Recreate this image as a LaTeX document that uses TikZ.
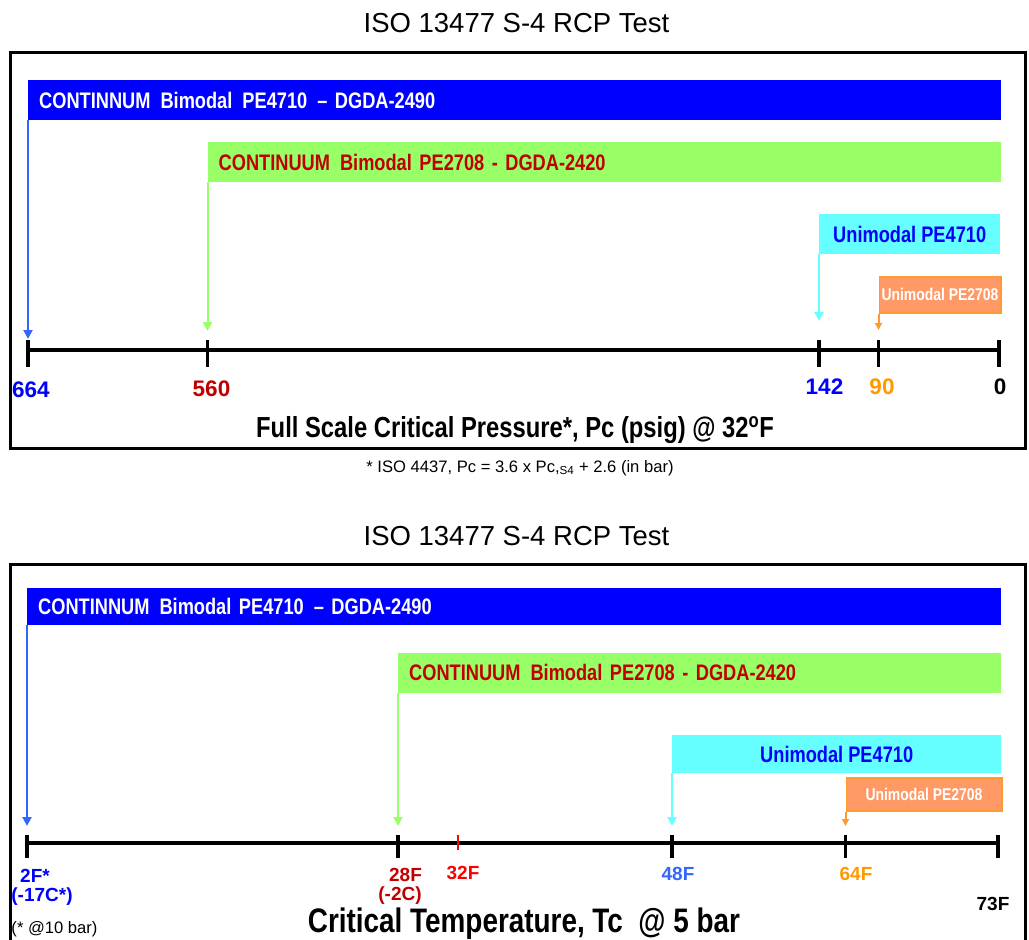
\documentclass[tikz,border=0pt]{standalone}
\usepackage{fontspec}
\setmainfont{Liberation Sans}
\newfontfamily\narrowfont[FakeStretch=0.82]{Liberation Sans}
\newfontfamily\barfont[FakeStretch=0.81]{Liberation Sans}
\newcommand{\gap}{\hspace{10pt}}
\usetikzlibrary{arrows.meta}
\pgfdeclarelayer{edgelayer}
\pgfdeclarelayer{nodelayer}
\pgfsetlayers{edgelayer,nodelayer,main}
\definecolor{barblue}{HTML}{0000FF}
\definecolor{arrowblue}{HTML}{3366FF}
\definecolor{bargreen}{HTML}{99FF66}
\definecolor{darkred}{HTML}{C00000}
\definecolor{barcyan}{HTML}{66FFFF}
\definecolor{barorange}{HTML}{FF9966}
\definecolor{lineorange}{HTML}{FF9933}
\definecolor{textorange}{HTML}{FF9900}
\tikzstyle{none}=[inner sep=0pt]
\tikzstyle{bar}=[anchor=north west, inner ysep=0pt, font=\barfont\bfseries\fontsize{22.5}{26}\selectfont]
\tikzstyle{leftbar}=[bar, inner xsep=11pt, align=left]
\tikzstyle{midbar}=[bar, inner xsep=0pt]
\tikzstyle{smallbar}=[midbar, font=\narrowfont\bfseries\fontsize{17}{20}\selectfont, text=white, fill=barorange, draw=lineorange, line width=1.5pt]
\tikzstyle{heading}=[none, anchor=base, font=\fontsize{27.5}{32}\selectfont]
\tikzstyle{axistitle}=[none, anchor=base, font=\narrowfont\bfseries\fontsize{29}{34}\selectfont]
\tikzstyle{ticklabel}=[none, anchor=base, font=\bfseries\fontsize{22.5}{26}\selectfont]
\tikzstyle{templabel}=[none, anchor=base, font=\bfseries\fontsize{19}{22}\selectfont]
\tikzstyle{footnote}=[none, anchor=base, font=\fontsize{16.6}{20}\selectfont]
\tikzstyle{panelframe}=[line width=3pt]
\tikzstyle{axisline}=[line width=3.5pt]
\tikzstyle{pointer}=[line width=2pt, -{Triangle[width=9pt,length=9pt]}]
\tikzstyle{smallpointer}=[line width=2pt, -{Triangle[width=7pt,length=7pt]}]

\begin{document}
\begin{tikzpicture}[x=1pt, y=1pt]
	\useasboundingbox (0, 0) rectangle (1029, -940);
	\begin{pgfonlayer}{nodelayer}
		% pressure panel
		\node [style=heading] (0) at (516.5, -32) {ISO 13477 S-4 RCP Test};
		\node [style=leftbar, fill=barblue, text=white, minimum height=40pt, text width=951pt] (1) at (28, -80) {CONTINNUM\gap Bimodal\gap PE4710\gap – DGDA-2490};
		\node [style=leftbar, fill=bargreen, text=darkred, minimum height=40pt, text width=771.5pt] (2) at (207.5, -142) {CONTINUUM\gap Bimodal PE2708 - DGDA-2420};
		\node [style=midbar, fill=barcyan, text=barblue, minimum height=40pt, minimum width=181pt] (3) at (819, -214) {Unimodal PE4710};
		\node [style=smallbar, minimum height=36pt, minimum width=121.5pt] (4) at (878.5, -276) {Unimodal PE2708};
		\coordinate (5) at (28, -339);
		\coordinate (6) at (207.5, -331);
		\coordinate (7) at (819, -321);
		\coordinate (8) at (878.5, -330);
		\coordinate (9) at (28, -350);
		\coordinate (10) at (1000, -350);
		\node [style=ticklabel, text=barblue] (11) at (31, -397) {664};
		\node [style=ticklabel, text=darkred] (12) at (211.5, -396) {560};
		\node [style=ticklabel, text=barblue] (13) at (824.5, -394) {142};
		\node [style=ticklabel, text=textorange] (14) at (882, -394) {90};
		\node [style=ticklabel] (15) at (1000, -394) {0};
		\node [style=axistitle] (16) at (515, -437) {Full Scale Critical Pressure*, Pc (psig) @ 32\textsuperscript{o}F};
		\node [style=footnote] (17) at (520, -472) {* ISO 4437, Pc = 3.6 x Pc,\textsubscript{S4} + 2.6 (in bar)};
		% temperature panel
		\node [style=heading] (20) at (516.5, -545) {ISO 13477 S-4 RCP Test};
		\node [style=leftbar, fill=barblue, text=white, minimum height=37pt, text width=952pt] (21) at (27, -588) {CONTINNUM\gap Bimodal PE4710\gap – DGDA-2490};
		\node [style=leftbar, fill=bargreen, text=darkred, minimum height=40pt, text width=581pt] (22) at (398, -652.5) {CONTINUUM\gap Bimodal PE2708 - DGDA-2420};
		\node [style=midbar, fill=barcyan, text=barblue, minimum height=38pt, minimum width=329pt] (23) at (672, -735) {Unimodal PE4710};
		\node [style=smallbar, minimum height=33pt, minimum width=155.5pt] (24) at (845.5, -777) {Unimodal PE2708};
		\coordinate (25) at (27, -826);
		\coordinate (26) at (398, -826);
		\coordinate (27) at (672, -826);
		\coordinate (28) at (845.5, -826);
		\coordinate (29) at (27, -843);
		\coordinate (30) at (998, -843);
		\node [style=templabel, text=barblue] (31) at (35, -882) {2F*};
		\node [style=templabel, text=barblue] (32) at (42, -901) {(-17C*)};
		\node [style=templabel, text=darkred] (33) at (405.5, -881) {28F};
		\node [style=templabel, text=darkred] (34) at (400, -900) {(-2C)};
		\node [style=templabel, text=red] (35) at (463, -879) {32F};
		\node [style=templabel, text=arrowblue] (36) at (678, -880) {48F};
		\node [style=templabel, text=textorange] (37) at (856, -880) {64F};
		\node [style=templabel] (38) at (993, -910) {73F};
		\node [style=footnote] (39) at (54.5, -933) {(* @10 bar)};
		\node [style=axistitle, font=\narrowfont\bfseries\fontsize{34}{40}\selectfont] (40) at (524, -932) {Critical Temperature, Tc~~@ 5 bar};
	\end{pgfonlayer}
	\begin{pgfonlayer}{edgelayer}
		\draw [style=panelframe] (10.5, -52) rectangle (1025.5, -448);
		\draw [style=axisline] (9) to (10);
		\draw [style=axisline] (28, -340) to (28, -367);
		\draw [style=axisline] (207.5, -340) to (207.5, -367);
		\draw [style=axisline] (819, -340) to (819, -367);
		\draw [style=axisline] (878.5, -340) to (878.5, -367);
		\draw [style=axisline] (999, -340) to (999, -367);
		\draw [style=pointer, arrowblue] (1.south west) to (5);
		\draw [style=pointer, bargreen] (2.south west) to (6);
		\draw [style=pointer, barcyan] (3.south west) to (7);
		\draw [style=smallpointer, lineorange] (4.south west) to (8);
		\draw [style=panelframe] (10.5, -564) rectangle (1025.5, -950);
		\draw [style=axisline] (29) to (30);
		\draw [style=axisline] (27, -835) to (27, -858);
		\draw [style=axisline] (398, -835) to (398, -858);
		\draw [style=axisline] (672, -835) to (672, -858);
		\draw [style=axisline] (845.5, -835) to (845.5, -858);
		\draw [style=axisline] (998, -835) to (998, -858);
		\draw [line width=2.5pt, red] (458, -835) to (458, -850);
		\draw [style=pointer, arrowblue] (21.south west) to (25);
		\draw [style=pointer, bargreen] (22.south west) to (26);
		\draw [style=pointer, barcyan] (23.south west) to (27);
		\draw [style=smallpointer, lineorange] (24.south west) to (28);
	\end{pgfonlayer}
\end{tikzpicture}
\end{document}
